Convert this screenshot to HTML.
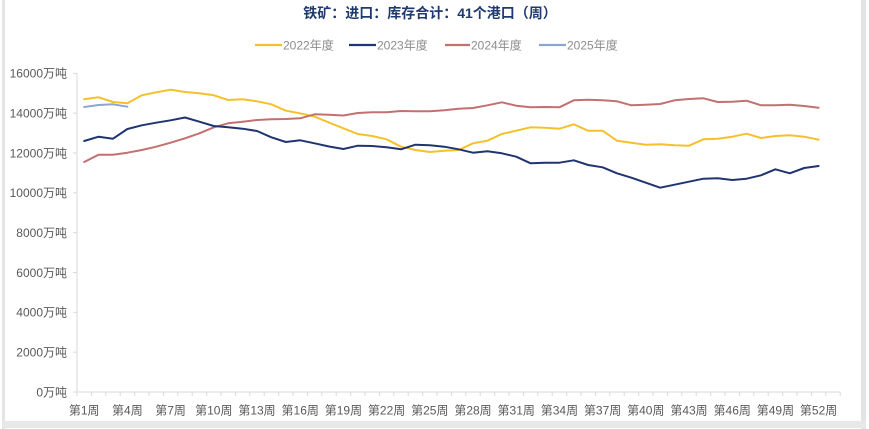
<!DOCTYPE html>
<html><head><meta charset="utf-8"><style>
html,body{margin:0;padding:0;background:#fff;}
svg{display:block;}
text{font-family:"Liberation Sans","Noto Sans CJK SC",sans-serif;}
</style></head><body>
<svg width="869" height="429" viewBox="0 0 869 429" xmlns="http://www.w3.org/2000/svg">
<rect x="0" y="0" width="869" height="429" fill="#fff"/>
<!-- frame -->
<rect x="2" y="0" width="3" height="429" fill="#e4e4e4"/>
<rect x="861" y="0" width="5" height="429" fill="#e4e4e4"/>
<rect x="2" y="421" width="864" height="7" fill="#e8e8e8"/>
<!-- title -->
<text x="430" y="18" text-anchor="middle" font-size="14" font-weight="bold" fill="#1f3a6e">铁矿：进口：库存合计：41个港口（周）</text>
<!-- legend -->
<g font-size="12" fill="#8c8c8c">
<line x1="255" y1="45" x2="282" y2="45" stroke="#f5c02a" stroke-width="2.2"/>
<text x="283" y="49.5">2022年度</text>
<line x1="349" y1="45" x2="376" y2="45" stroke="#1f3470" stroke-width="2.2"/>
<text x="377" y="49.5">2023年度</text>
<line x1="445" y1="45" x2="470" y2="45" stroke="#c27070" stroke-width="2.2"/>
<text x="471" y="49.5">2024年度</text>
<line x1="539" y1="45" x2="566" y2="45" stroke="#8ea6cf" stroke-width="2.2"/>
<text x="567" y="49.5">2025年度</text>
</g>
<!-- axes -->
<line x1="77" y1="73" x2="77" y2="392" stroke="#d9d9d9" stroke-width="1"/>
<line x1="77" y1="392" x2="840" y2="392" stroke="#d9d9d9" stroke-width="1"/>
<g stroke="#d9d9d9" stroke-width="1" id="yt"></g>
<g stroke="#d9d9d9" stroke-width="1" id="xt"></g>
<g font-size="12" fill="#595959" text-anchor="end" id="yl"></g>
<g font-size="12" fill="#595959" text-anchor="middle" id="xl"></g>
<g fill="none" stroke-width="2" stroke-linejoin="round" stroke-linecap="round" id="series"></g>
</svg>
<script>
(function(){
var NS="http://www.w3.org/2000/svg";
function el(t,a,p,txt){var e=document.createElementNS(NS,t);for(var k in a)e.setAttribute(k,a[k]);if(txt!==undefined)e.textContent=txt;document.getElementById(p).appendChild(e);return e;}
var labels=["16000万吨","14000万吨","12000万吨","10000万吨","8000万吨","6000万吨","4000万吨","2000万吨","0万吨"];
for(var i=0;i<9;i++){var y=73.3+i*39.84;el("line",{x1:73,y1:y,x2:77,y2:y},"yt");el("text",{x:67,y:y+4.3},"yl",labels[i]);}
for(var k=0;k<=53;k++){var x=77+k*14.4;el("line",{x1:x,y1:392,x2:x,y2:396},"xt");}
for(var w=1;w<=52;w+=3){el("text",{x:84.2+(w-1)*14.4,y:414.5},"xl","第"+w+"周");}
var S=[
["#f5c02a",[99.3,97.3,102,103.3,95.3,92.3,89.7,92,93.3,95.3,100,99.3,101.3,104.3,110.7,113.3,116.7,122.5,128.3,134,136,139.3,146.7,150,152,150.7,150,143.3,140.7,134,130.7,127.3,127.7,128.7,124.3,130.8,130.7,140.7,142.7,144.7,144.3,145.3,145.7,139.3,138.7,136.7,133.7,138,136,135.3,136.7,139.7]],
["#c27070",[162,154.7,154.7,152.7,150,146.7,142.7,138.3,133.3,127.3,123.3,121.7,120,119.3,119,118.3,114.3,114.7,115.5,113,112.3,112.3,111,111.3,111.3,110.3,108.7,108,105.3,102.3,105.7,107.3,107,107.3,100.3,99.8,100.3,101.3,105.3,104.7,104,100.3,99,98.3,102,101.7,100.7,105.3,105.3,104.7,106,107.7]],
["#1f3470",[141,136.7,138.7,129,125.3,122.7,120.3,117.5,121.7,126,127.3,128.7,131,137.3,142,140.3,143.3,146.5,149,145.7,146,147.3,149.3,144.7,145.3,146.7,149.3,152.7,151.3,153.3,156.7,163.3,162.7,162.7,160.3,165,167.3,173.3,177.7,182.7,187.7,184.7,181.7,178.7,178.3,180,178.7,175.3,169.3,173.3,168,166]],
["#8ea6cf",[107,105,104.3,106.7]]
];
S.forEach(function(s){var pts=s[1].map(function(y,i){return (84.2+i*14.4).toFixed(1)+","+y;}).join(" ");el("polyline",{points:pts,stroke:s[0]},"series");});
})();
</script>
</body></html>
